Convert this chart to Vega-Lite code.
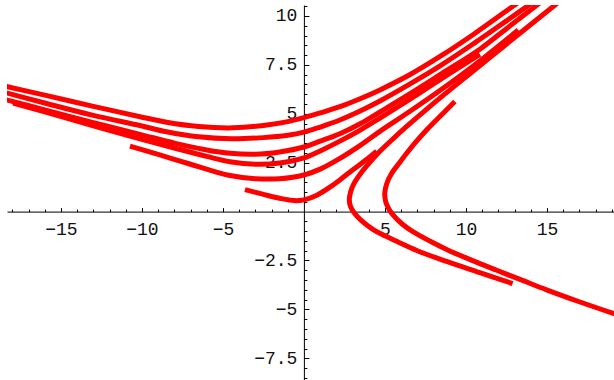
{
  "$schema": "https://vega.github.io/schema/vega-lite/v6.json",
  "width": 607,
  "height": 375,
  "autosize": {"type": "none"},
  "padding": {"left": 7, "top": 5, "right": 0, "bottom": 0},
  "background": "white",
  "config": {"view": {"stroke": null}},
  "data": {"values": [
    {"c":"A","i":0,"x":-18.6,"y":6.44},{"c":"A","i":1,"x":-16,"y":5.95},{"c":"A","i":2,"x":-13,"y":5.38},{"c":"A","i":3,"x":-10.12,"y":4.85},{"c":"A","i":4,"x":-8.48,"y":4.57},{"c":"A","i":5,"x":-6.5,"y":4.35},{"c":"A","i":6,"x":-4.4,"y":4.28},{"c":"A","i":7,"x":-2.5,"y":4.4},{"c":"A","i":8,"x":-1,"y":4.6},{"c":"A","i":9,"x":0,"y":4.8},{"c":"A","i":10,"x":1,"y":5.04},{"c":"A","i":11,"x":2.22,"y":5.36},{"c":"A","i":12,"x":3.5,"y":5.78},{"c":"A","i":13,"x":4.69,"y":6.22},{"c":"A","i":14,"x":6.5,"y":6.98},{"c":"A","i":15,"x":8.5,"y":7.98},{"c":"A","i":16,"x":10.5,"y":9.08},{"c":"A","i":17,"x":12.4,"y":10.2},{"c":"A","i":18,"x":13.5,"y":10.85},
    {"c":"B","i":0,"x":-18.6,"y":6.12},{"c":"B","i":1,"x":-16,"y":5.55},{"c":"B","i":2,"x":-13,"y":4.92},{"c":"B","i":3,"x":-10.12,"y":4.4},{"c":"B","i":4,"x":-8.48,"y":4.08},{"c":"B","i":5,"x":-6.5,"y":3.82},{"c":"B","i":6,"x":-4.5,"y":3.72},{"c":"B","i":7,"x":-2.5,"y":3.78},{"c":"B","i":8,"x":-1,"y":3.9},{"c":"B","i":9,"x":0,"y":4.06},{"c":"B","i":10,"x":1,"y":4.32},{"c":"B","i":11,"x":2.22,"y":4.68},{"c":"B","i":12,"x":3.5,"y":5.15},{"c":"B","i":13,"x":4.69,"y":5.65},{"c":"B","i":14,"x":6.5,"y":6.5},{"c":"B","i":15,"x":8.5,"y":7.5},{"c":"B","i":16,"x":10.5,"y":8.6},{"c":"B","i":17,"x":12.5,"y":9.75},{"c":"B","i":18,"x":14.3,"y":10.8},
    {"c":"C","i":0,"x":-18.6,"y":5.76},{"c":"C","i":1,"x":-16,"y":5.2},{"c":"C","i":2,"x":-13,"y":4.55},{"c":"C","i":3,"x":-10.12,"y":3.95},{"c":"C","i":4,"x":-8,"y":3.5},{"c":"C","i":5,"x":-6,"y":3.15},{"c":"C","i":6,"x":-4.57,"y":2.98},{"c":"C","i":7,"x":-3,"y":2.93},{"c":"C","i":8,"x":-1.5,"y":3.05},{"c":"C","i":9,"x":0,"y":3.3},{"c":"C","i":10,"x":1,"y":3.6},{"c":"C","i":11,"x":2.22,"y":3.98},{"c":"C","i":12,"x":3.5,"y":4.5},{"c":"C","i":13,"x":4.69,"y":5.09},{"c":"C","i":14,"x":6.5,"y":6.0},{"c":"C","i":15,"x":8.5,"y":7.05},{"c":"C","i":16,"x":10.86,"y":8.3},{"c":"C","i":17,"x":12.5,"y":9.35},{"c":"C","i":18,"x":15,"y":10.95},
    {"c":"D","i":0,"x":-17.96,"y":5.55},{"c":"D","i":1,"x":-16,"y":5.1},{"c":"D","i":2,"x":-13,"y":4.38},{"c":"D","i":3,"x":-10.12,"y":3.72},{"c":"D","i":4,"x":-8,"y":3.25},{"c":"D","i":5,"x":-6,"y":2.82},{"c":"D","i":6,"x":-4.57,"y":2.55},{"c":"D","i":7,"x":-3,"y":2.42},{"c":"D","i":8,"x":-1.5,"y":2.48},{"c":"D","i":9,"x":0,"y":2.74},{"c":"D","i":10,"x":1,"y":3.1},{"c":"D","i":11,"x":2.22,"y":3.6},{"c":"D","i":12,"x":3.5,"y":4.18},{"c":"D","i":13,"x":4.69,"y":4.78},{"c":"D","i":14,"x":6.5,"y":5.72},{"c":"D","i":15,"x":8.5,"y":6.8},{"c":"D","i":16,"x":10.86,"y":8.04},
    {"c":"E","i":0,"x":-10.74,"y":3.35},{"c":"E","i":1,"x":-9,"y":2.92},{"c":"E","i":2,"x":-7,"y":2.42},{"c":"E","i":3,"x":-5.5,"y":2.04},{"c":"E","i":4,"x":-4.57,"y":1.84},{"c":"E","i":5,"x":-3,"y":1.68},{"c":"E","i":6,"x":-1.5,"y":1.68},{"c":"E","i":7,"x":0,"y":1.87},{"c":"E","i":8,"x":1,"y":2.17},{"c":"E","i":9,"x":2.22,"y":2.72},{"c":"E","i":10,"x":3.5,"y":3.4},{"c":"E","i":11,"x":4.69,"y":4.1},{"c":"E","i":12,"x":6.5,"y":5.1},{"c":"E","i":13,"x":8.5,"y":6.25},{"c":"E","i":14,"x":10.86,"y":7.7},{"c":"E","i":15,"x":13.23,"y":9.28},
    {"c":"F","i":0,"x":-3.64,"y":1.12},{"c":"F","i":1,"x":-2.5,"y":0.88},{"c":"F","i":2,"x":-1.5,"y":0.68},{"c":"F","i":3,"x":-0.6,"y":0.56},{"c":"F","i":4,"x":0,"y":0.6},{"c":"F","i":5,"x":0.8,"y":0.84},{"c":"F","i":6,"x":1.6,"y":1.25},{"c":"F","i":7,"x":2.22,"y":1.62},{"c":"F","i":8,"x":3.04,"y":2.15},{"c":"F","i":9,"x":3.8,"y":2.62},{"c":"F","i":10,"x":4.49,"y":3.09},
    {"c":"G","i":0,"x":16,"y":10.9},{"c":"G","i":1,"x":15.5,"y":10.56},{"c":"G","i":2,"x":13,"y":8.9},{"c":"G","i":3,"x":11,"y":7.55},{"c":"G","i":4,"x":9.2,"y":6.35},{"c":"G","i":5,"x":7.78,"y":5.38},{"c":"G","i":6,"x":6.34,"y":4.35},{"c":"G","i":7,"x":5.5,"y":3.72},{"c":"G","i":8,"x":4.69,"y":3.08},{"c":"G","i":9,"x":4,"y":2.45},{"c":"G","i":10,"x":3.5,"y":1.95},{"c":"G","i":11,"x":3.1,"y":1.45},{"c":"G","i":12,"x":2.88,"y":1.0},{"c":"G","i":13,"x":2.8,"y":0.6},{"c":"G","i":14,"x":2.88,"y":0.25},{"c":"G","i":15,"x":3.1,"y":-0.06},{"c":"G","i":16,"x":3.5,"y":-0.42},{"c":"G","i":17,"x":4.28,"y":-0.92},{"c":"G","i":18,"x":5,"y":-1.24},{"c":"G","i":19,"x":5.72,"y":-1.52},{"c":"G","i":20,"x":7,"y":-2.0},{"c":"G","i":21,"x":8.81,"y":-2.55},{"c":"G","i":22,"x":10.86,"y":-3.12},{"c":"G","i":23,"x":12.88,"y":-3.68},
    {"c":"H","i":0,"x":9.32,"y":5.63},{"c":"H","i":1,"x":8.5,"y":4.95},{"c":"H","i":2,"x":7.57,"y":4.17},{"c":"H","i":3,"x":6.9,"y":3.55},{"c":"H","i":4,"x":6.34,"y":2.98},{"c":"H","i":5,"x":5.9,"y":2.5},{"c":"H","i":6,"x":5.41,"y":1.95},{"c":"H","i":7,"x":5.12,"y":1.45},{"c":"H","i":8,"x":4.99,"y":0.95},{"c":"H","i":9,"x":5.05,"y":0.5},{"c":"H","i":10,"x":5.25,"y":0.12},{"c":"H","i":11,"x":5.51,"y":-0.18},{"c":"H","i":12,"x":6.1,"y":-0.66},{"c":"H","i":13,"x":6.75,"y":-1.04},{"c":"H","i":14,"x":7.8,"y":-1.52},{"c":"H","i":15,"x":8.81,"y":-1.94},{"c":"H","i":16,"x":10.3,"y":-2.47},{"c":"H","i":17,"x":11.9,"y":-3.0},{"c":"H","i":18,"x":13.5,"y":-3.52},{"c":"H","i":19,"x":14.98,"y":-4.0},{"c":"H","i":20,"x":17,"y":-4.61},{"c":"H","i":21,"x":19.5,"y":-5.32}
  ]},
  "mark": {"type": "line", "color": "#ff0000", "strokeWidth": 5, "clip": true, "strokeCap": "butt", "strokeJoin": "round", "interpolate": "catmull-rom"},
  "encoding": {
    "x": {
      "field": "x", "type": "quantitative",
      "scale": {"domain": [-18.33, 19.14], "nice": false, "zero": false},
      "axis": {
        "orient": "bottom", "offset": -168.4, "title": null, "grid": false,
        "values": [-18,-17,-16,-15,-14,-13,-12,-11,-10,-9,-8,-7,-6,-5,-4,-3,-2,-1,1,2,3,4,5,6,7,8,9,10,11,12,13,14,15,16,17,18,19],
        "format": "~g",
        "labelExpr": "datum.value % 5 === 0 ? datum.label : ''",
        "tickSize": {"condition": {"test": "datum.value % 5 === 0", "value": -4}, "value": -2.5},
        "tickColor": "#000", "tickWidth": 1, "domainColor": "#000", "domainWidth": 1,
        "labelFont": "Liberation Mono", "labelFontSize": 18, "labelColor": "#111",
        "labelPadding": 13, "labelOverlap": false, "labelFlush": false, "labelBound": false, "labelBaseline": "top"
      }
    },
    "y": {
      "field": "y", "type": "quantitative",
      "scale": {"domain": [-8.61, 10.56], "nice": false, "zero": false},
      "axis": {
        "orient": "left", "offset": -296.9, "title": null, "grid": false,
        "values": [-8.5,-8,-7.5,-7,-6.5,-6,-5.5,-5,-4.5,-4,-3.5,-3,-2.5,-2,-1.5,-1,-0.5,0.5,1,1.5,2,2.5,3,3.5,4,4.5,5,5.5,6,6.5,7,7.5,8,8.5,9,9.5,10,10.5],
        "format": "~g",
        "labelExpr": "datum.value % 2.5 === 0 ? datum.label : ''",
        "tickSize": {"condition": {"test": "datum.value % 2.5 === 0", "value": -5}, "value": -3},
        "tickColor": "#000", "tickWidth": 1, "domainColor": "#000", "domainWidth": 1,
        "labelFont": "Liberation Mono", "labelFontSize": 18, "labelColor": "#111",
        "labelPadding": 12, "labelOverlap": false, "labelFlush": false, "labelBound": false, "labelAlign": "right", "labelBaseline": "middle"
      }
    },
    "detail": {"field": "c", "type": "nominal"},
    "order": {"field": "i", "type": "quantitative"}
  }
}
